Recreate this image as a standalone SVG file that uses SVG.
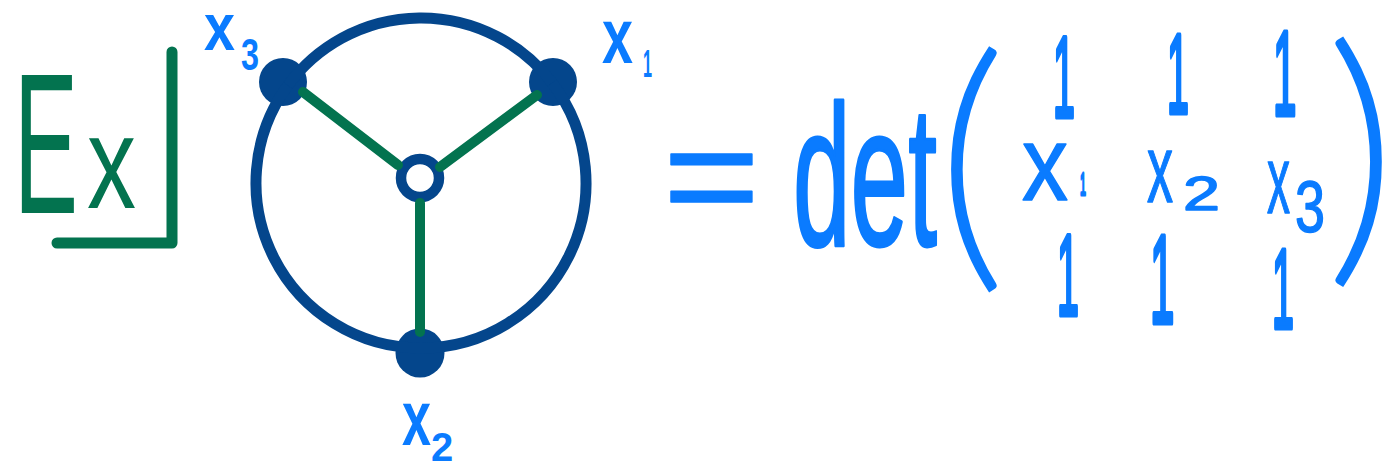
<svg xmlns="http://www.w3.org/2000/svg" width="1392" height="466" viewBox="0 0 1392 466">
<style>
.g{stroke:#03734F;stroke-width:11;stroke-linecap:round;stroke-linejoin:round;fill:none}
.gt{fill:#03734F;font-family:"Liberation Sans",Arial,sans-serif}
.ring{stroke:#04468C;stroke-width:11;fill:none}
.dot{fill:#04468C}
.hole{fill:#fff;stroke:#04468C;stroke-width:10.5}
.spoke{stroke:#03734F;stroke-width:10;stroke-linecap:round;fill:none}
.lbl{fill:#0A7BFF;font-family:"Liberation Sans",Arial,sans-serif;font-weight:bold}
.m{fill:#0A7BFF;stroke:#0A7BFF;stroke-width:1.5;stroke-linejoin:round;font-family:"Liberation Sans",Arial,sans-serif}
.one{fill:#0A7BFF;stroke:#0A7BFF;stroke-width:5;stroke-linejoin:round;stroke-linecap:round;font-family:"Liberation Sans",Arial,sans-serif}
.p{fill:#0A7BFF;font-family:Lato,"Liberation Sans",sans-serif;font-weight:300}
</style>
<rect width="1392" height="466" fill="#fff"/>
<g id="ex-label">
<text class="gt"><tspan x="14" y="213" font-size="200" textLength="64" lengthAdjust="spacingAndGlyphs">E</tspan><tspan x="87" y="208" font-size="131" textLength="49" lengthAdjust="spacingAndGlyphs">x</tspan></text>
<path class="g" d="M172 52 V243 H57"/>
</g>
<g id="node-x3">
<circle class="dot" cx="283" cy="82" r="24"/>
<text class="lbl"><tspan x="204" y="50" font-size="67" textLength="31" lengthAdjust="spacingAndGlyphs">x</tspan><tspan x="241" y="70" font-size="45" textLength="18" lengthAdjust="spacingAndGlyphs">3</tspan></text>
</g>
<g id="node-x1">
<circle class="dot" cx="553" cy="82" r="24"/>
<text class="lbl"><tspan x="602" y="63" font-size="77" textLength="31" lengthAdjust="spacingAndGlyphs">x</tspan><tspan x="643" y="77" font-size="38" textLength="9" lengthAdjust="spacingAndGlyphs">1</tspan></text>
</g>
<g id="node-x2">
<circle class="dot" cx="420" cy="353" r="24.5"/>
<text class="lbl"><tspan x="402" y="445" font-size="77" textLength="29" lengthAdjust="spacingAndGlyphs">x</tspan><tspan x="431" y="461" font-size="40">2</tspan></text>
</g>
<g id="node-center">
<circle class="hole" cx="420" cy="178" r="19"/>
</g>
<g id="connectors">
<path class="ring" d="M287.8 85.6 A165 165 0 0 1 552.1 82.8"/>
<path class="ring" d="M552.1 82.8 A165 165 0 0 1 421 348"/>
<path class="ring" d="M421 348 A165 165 0 0 1 287.8 85.6"/>
<line class="spoke" x1="398" y1="165" x2="303" y2="92"/>
<line class="spoke" x1="440" y1="167" x2="537" y2="95"/>
<line class="spoke" x1="420" y1="203" x2="420" y2="332"/>
</g>
<g id="formula">
<text class="m" x="663" y="227" font-size="148" textLength="97" lengthAdjust="spacingAndGlyphs">=</text>
<text class="m" x="793" y="245" font-size="200" textLength="144" lengthAdjust="spacingAndGlyphs" style="stroke-width:3">det</text>
<text class="p" x="936" y="256" font-size="275">(</text>
<text class="one" x="1053" y="117" font-size="115" textLength="22" lengthAdjust="spacingAndGlyphs">1</text>
<text class="one" x="1167" y="113" font-size="113" textLength="22" lengthAdjust="spacingAndGlyphs">1</text>
<text class="one" x="1273" y="115" font-size="121" textLength="23.5" lengthAdjust="spacingAndGlyphs">1</text>
<text class="m"><tspan x="1022" y="200" font-size="106" textLength="46" lengthAdjust="spacingAndGlyphs">x</tspan><tspan class="one" x="1080" y="195" font-size="31" textLength="6" lengthAdjust="spacingAndGlyphs" style="stroke-width:3">1</tspan></text>
<text class="m"><tspan x="1147" y="202" font-size="96" textLength="26" lengthAdjust="spacingAndGlyphs">x</tspan><tspan x="1183" y="210" font-size="49" textLength="37" lengthAdjust="spacingAndGlyphs">2</tspan></text>
<text class="m"><tspan x="1267" y="213" font-size="96" textLength="23" lengthAdjust="spacingAndGlyphs">x</tspan><tspan x="1295" y="232" font-size="72" textLength="30" lengthAdjust="spacingAndGlyphs">3</tspan></text>
<text class="one" x="1057" y="315" font-size="115" textLength="22" lengthAdjust="spacingAndGlyphs">1</text>
<text class="one" x="1150" y="323" font-size="126" textLength="24.5" lengthAdjust="spacingAndGlyphs">1</text>
<text class="one" x="1272" y="328" font-size="113" textLength="22" lengthAdjust="spacingAndGlyphs">1</text>
<text class="p" x="1325" y="250" font-size="280">)</text>
</g>
</svg>
